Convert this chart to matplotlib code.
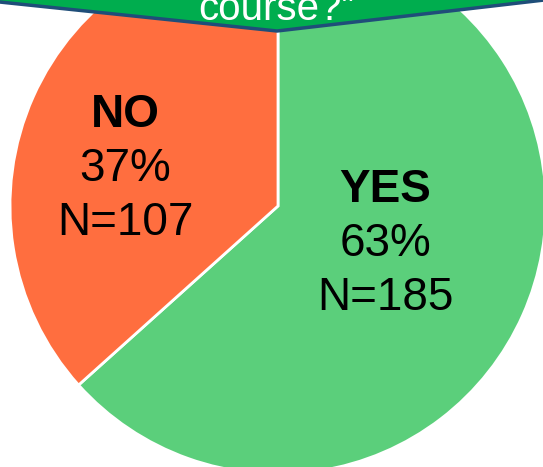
import matplotlib.pyplot as plt
from matplotlib.patches import Polygon

# data
answers = ['YES', 'NO']
counts = [185, 107]
colors = ['#5BCF7B', '#FF6E3F']

W, H = 543, 467
plt.rcParams['font.family'] = ['Liberation Sans', 'DejaVu Sans']

fig = plt.figure(figsize=(W / 100, H / 100), dpi=100)
ax = fig.add_axes([0, 0, 1, 1])
ax.set_xlim(0, W)
ax.set_ylim(0, H)
ax.set_aspect('equal')
ax.axis('off')

# pie (partly cut off by the canvas)
cx, cy, r = 278, H - 206, 268
wedges, _ = ax.pie(counts, colors=colors, startangle=90, counterclock=False,
                   center=(cx, cy), radius=r, frame=True,
                   wedgeprops=dict(edgecolor='white', linewidth=2))
ax.set_xlim(0, W)
ax.set_ylim(0, H)
ax.axis('off')

total = sum(counts)
label_pos = {'NO': (125, H - 115), 'YES': (385, H - 190)}
for name, n in zip(answers, counts):
    x, y = label_pos[name]
    pct = round(100 * n / total)
    ax.text(x, y, name, ha='center', va='center', fontsize=33,
            fontweight='bold', color='black')
    ax.text(x, y - 54, f'{pct}%', ha='center', va='center', fontsize=33)
    ax.text(x, y - 108, f'N={n}', ha='center', va='center', fontsize=33)

# callout banner at the top
banner = Polygon([(-10, H + 20), (-10, H - 1), (277, H - 31), (553, H + 1),
                  (553, H + 20)], closed=True, facecolor='#00AD4E',
                 edgecolor='#1F4E79', linewidth=2.5, zorder=5)
ax.add_patch(banner)
ax.text(277, H - 20, 'course?\u201d', ha='center', va='baseline',
        fontsize=29, color='white', zorder=6)

fig.savefig('out.png', dpi=100)
